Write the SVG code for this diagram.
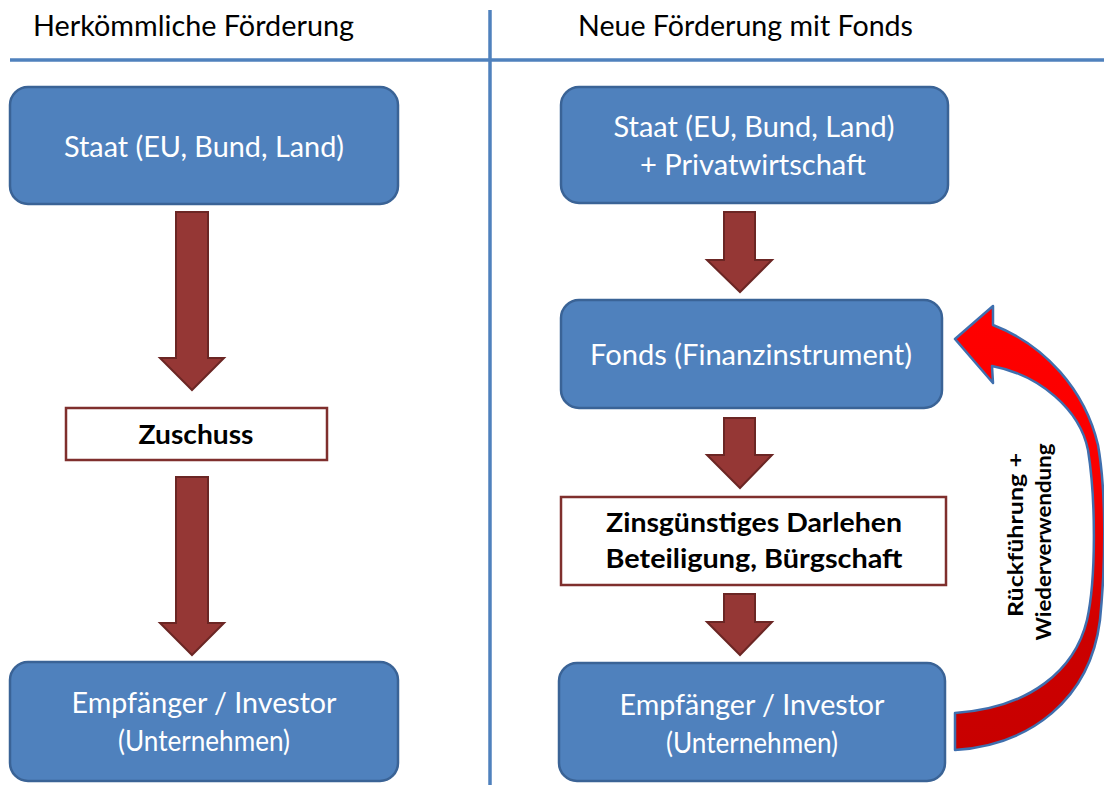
<svg xmlns="http://www.w3.org/2000/svg" width="1104" height="785" viewBox="0 0 1104 785">
<defs>
<linearGradient id="redg" gradientUnits="userSpaceOnUse" x1="0" y1="306" x2="0" y2="750">
<stop offset="0" stop-color="#ff0000"/>
<stop offset="0.4" stop-color="#fa0000"/>
<stop offset="0.75" stop-color="#cc0000"/>
<stop offset="1" stop-color="#c80000"/>
</linearGradient>
<style>
.blue{fill:#4f81bd;stroke:#3a6396;stroke-width:2.5}
.white{fill:#ffffff;stroke:#7f2f2d;stroke-width:2.5}
.arr{fill:#953735;stroke:#6b2624;stroke-width:2}
.sep{stroke:#4f81bd;stroke-width:3.5;fill:none}
.t{font-family:Lato,"Open Sans","Liberation Sans",sans-serif;text-anchor:middle}
.wt{fill:#ffffff;font-size:28px}
.bt{fill:#000000;font-size:27px;font-weight:bold}
.ht{fill:#000000;font-size:28px;font-family:Lato,"Open Sans","Liberation Sans",sans-serif}
.rt{fill:#000000;font-size:21px;font-weight:bold}
</style>
</defs>
<g id="separators">
<line class="sep" x1="10" y1="60" x2="1104" y2="60"/>
<line class="sep" x1="490" y1="10" x2="490" y2="785"/>
</g>
<g id="titles">
<text class="ht" x="33" y="36" textLength="321" lengthAdjust="spacingAndGlyphs">Herkömmliche Förderung</text>
<text class="ht" x="578" y="36" textLength="335" lengthAdjust="spacingAndGlyphs">Neue Förderung mit Fonds</text>
</g>
<g id="connectors">
<path class="arr" d="M176,212 H208 V358 H224 L192,390 L160,358 H176 Z"/>
<path class="arr" d="M176,477 H208 V623 H224 L192,655 L160,623 H176 Z"/>
<path class="arr" d="M724,212 H755 V260 H772 L740,292 L707,260 H724 Z"/>
<path class="arr" d="M724,418 H755 V455 H772 L740,488 L707,455 H724 Z"/>
<path class="arr" d="M724,594 H755 V622 H772 L740,655 L707,622 H724 Z"/>
<path id="return-arrow" d="M955,750 C1030,745 1090,700 1100,620 C1106,560 1106,490 1098,445 C1085,390 1045,345 993,325 L993,306 L955,339 L993,383 L992,366 C1040,375 1080,410 1088,450 C1096,500 1096,580 1087,620 C1075,670 1030,708 955,713 Z" fill="url(#redg)" stroke="#3f6fae" stroke-width="2.5" stroke-linejoin="round"/>
</g>
<g id="n-staat-left">
<rect class="blue" x="10" y="87" width="388" height="117" rx="18"/>
<text class="t wt" x="204" y="157" textLength="280" lengthAdjust="spacingAndGlyphs">Staat (EU, Bund, Land)</text>
</g>
<g id="n-zuschuss">
<rect class="white" x="66" y="408" width="261" height="52"/>
<text class="t bt" x="196" y="444" textLength="115" lengthAdjust="spacingAndGlyphs">Zuschuss</text>
</g>
<g id="n-empfaenger-left">
<rect class="blue" x="10" y="662" width="388" height="119" rx="18"/>
<text class="t wt" x="204" y="713" textLength="265" lengthAdjust="spacingAndGlyphs">Empfänger / Investor</text>
<text class="t wt" x="204" y="751" textLength="172" lengthAdjust="spacingAndGlyphs">(Unternehmen)</text>
</g>
<g id="n-staat-right">
<rect class="blue" x="561" y="87" width="387" height="116" rx="18"/>
<text class="t wt" x="754" y="137" textLength="281" lengthAdjust="spacingAndGlyphs">Staat (EU, Bund, Land)</text>
<text class="t wt" x="753" y="175" textLength="226" lengthAdjust="spacingAndGlyphs">+ Privatwirtschaft</text>
</g>
<g id="n-fonds">
<rect class="blue" x="561" y="300" width="381" height="108" rx="18"/>
<text class="t wt" x="751" y="365" textLength="322" lengthAdjust="spacingAndGlyphs">Fonds (Finanzinstrument)</text>
</g>
<g id="n-darlehen">
<rect class="white" x="561" y="497" width="385" height="88"/>
<text class="t bt" x="754" y="532" textLength="296" lengthAdjust="spacingAndGlyphs">Zinsgünstiges Darlehen</text>
<text class="t bt" x="754" y="568" textLength="297" lengthAdjust="spacingAndGlyphs">Beteiligung, Bürgschaft</text>
</g>
<g id="n-empfaenger-right">
<rect class="blue" x="559" y="663" width="386" height="118" rx="18"/>
<text class="t wt" x="752" y="715" textLength="265" lengthAdjust="spacingAndGlyphs">Empfänger / Investor</text>
<text class="t wt" x="752" y="753" textLength="172" lengthAdjust="spacingAndGlyphs">(Unternehmen)</text>
</g>
<g id="return-label">
<text class="t rt" transform="rotate(-90 1023 535)" x="1023" y="535" textLength="164" lengthAdjust="spacingAndGlyphs">Rückführung +</text>
<text class="t rt" transform="rotate(-90 1051 542)" x="1051" y="542" textLength="197" lengthAdjust="spacingAndGlyphs">Wiederverwendung</text>
</g>
</svg>
